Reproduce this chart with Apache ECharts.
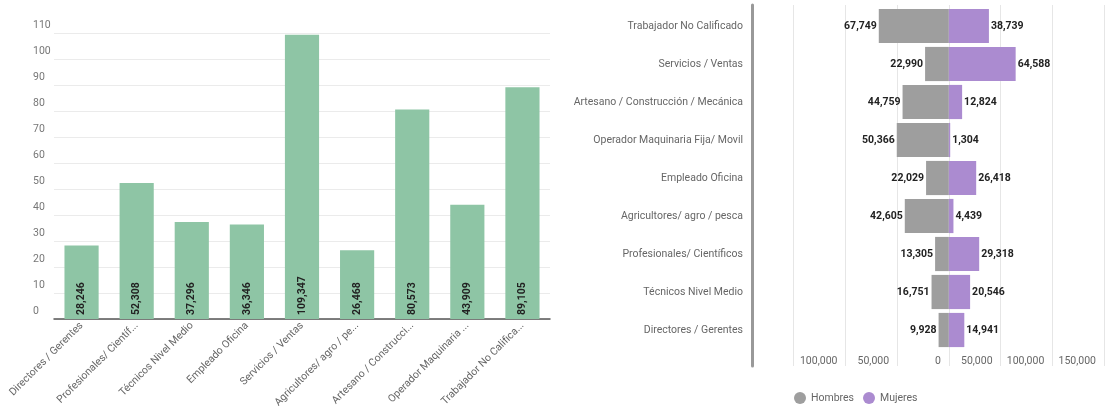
<!DOCTYPE html>
<html>
<head>
<meta charset="utf-8">
<script src="https://cdn.jsdelivr.net/npm/echarts@6/dist/echarts.min.js"></script>
<style>
  html, body { margin: 0; padding: 0; background: #fff; }
  #chart { width: 1108px; height: 406px; }
</style>
</head>
<body>
<div id="chart"></div>
<script>
// categorias del grafico de barras (izquierda)
const categorias = [
  "Directores / Gerentes",
  "Profesionales/ Científicos",
  "Técnicos Nivel Medio",
  "Empleado Oficina",
  "Servicios / Ventas",
  "Agricultores/ agro / pesca",
  "Artesano / Construcción / Mecánica",
  "Operador Maquinaria Fija/ Movil",
  "Trabajador No Calificado"
];
const totales = [28246, 52308, 37296, 36346, 109347, 26468, 80573, 43909, 89105];

// piramide (derecha), de abajo hacia arriba
const categoriasSexo = [
  "Directores / Gerentes",
  "Técnicos Nivel Medio",
  "Profesionales/ Científicos",
  "Agricultores/ agro / pesca",
  "Empleado Oficina",
  "Operador Maquinaria Fija/ Movil",
  "Artesano / Construcción / Mecánica",
  "Servicios / Ventas",
  "Trabajador No Calificado"
];
const hombres = [9928, 16751, 13305, 42605, 22029, 50366, 44759, 22990, 67749];
const mujeres = [14941, 20546, 29318, 4439, 26418, 1304, 12824, 64588, 38739];
const leyenda = ["Hombres", "Mujeres"];

const fmt = (v) => Math.abs(v).toLocaleString("en-US");
const font = "Roboto";
const fs = 10.5;

let myChart = echarts.init(document.getElementById("chart"));
myChart.setOption({
  textStyle: { fontFamily: font },
  animation: false,
  legend: {
    data: leyenda,
    left: 789,
    top: 387,
    icon: "circle",
    itemWidth: 12,
    itemHeight: 12,
    itemGap: 9,
    textStyle: { color: "#666", fontSize: fs, fontFamily: font },
  },
  grid: [
    { left: 54, right: 558, top: 33, bottom: 87, outerBoundsMode: "none" },  // barras
    { left: 742, right: 4, top: 7, bottom: 57, outerBoundsMode: "none" },    // piramide
    { left: 742, right: 4, top: 5, bottom: 40, outerBoundsMode: "none" },    // rejilla de fondo
  ],
  xAxis: [
    {
      type: "category",
      gridIndex: 0,
      data: categorias,
      axisTick: { show: false },
      axisLine: { lineStyle: { color: "#555", width: 1.5 } },
      axisLabel: {
        interval: 0,
        rotate: 45,
        fontSize: fs,
        color: "#666",
        margin: 5,
        width: 116,
        overflow: "truncate",
      },
    },
    {
      type: "value",
      gridIndex: 1,
      min: -200000,
      max: 150000,
      interval: 50000,
      axisLine: { show: false },
      axisTick: { show: false },
      splitLine: { show: false },
      axisLabel: {
        fontSize: fs,
        color: "#666",
        margin: 7,
        align: "right",
        padding: [0, 8, 0, 0],
        formatter: (v) => (v < -100000 ? "" : fmt(v)),
      },
    },
    {
      type: "value",
      gridIndex: 2,
      min: -200000,
      max: 150000,
      interval: 50000,
      axisLine: { show: false },
      axisTick: { show: false },
      axisLabel: { show: false },
      splitLine: { show: true, showMinLine: false, lineStyle: { color: "#e6e6e6" } },
    },
  ],
  yAxis: [
    {
      type: "value",
      gridIndex: 0,
      min: 0,
      max: 110000,
      interval: 10000,
      axisLine: { show: false },
      axisTick: { show: false },
      splitLine: { lineStyle: { color: "#ebebeb" } },
      axisLabel: {
        fontSize: fs,
        color: "#777",
        align: "left",
        margin: 21,
        verticalAlign: "bottom",
        padding: [0, 0, 2, 0],
        formatter: (v) => v / 1000,
      },
    },
    {
      type: "category",
      gridIndex: 1,
      data: categoriasSexo,
      offset: -10,
      axisLine: { show: false },
      axisTick: { show: false },
      axisLabel: { fontSize: fs, color: "#666", margin: 9 },
    },
    {
      type: "value",
      gridIndex: 2,
      min: 0,
      max: 1,
      offset: -10,
      axisLine: { show: true, onZero: false, lineStyle: { color: "#999", width: 3 } },
      axisTick: { show: false },
      axisLabel: { show: false },
      splitLine: { show: false },
    },
  ],
  series: [
    {
      name: "Total",
      type: "bar",
      xAxisIndex: 0,
      yAxisIndex: 0,
      barCategoryGap: "38%",
      itemStyle: { color: "#8ec5a5" },
      label: {
        show: true,
        position: "insideBottom",
        rotate: 90,
        align: "left",
        verticalAlign: "middle",
        distance: 4,
        fontSize: fs,
        fontWeight: "bold",
        color: "#222",
        formatter: (p) => fmt(p.value),
      },
      data: totales,
    },
    {
      name: "Hombres",
      type: "bar",
      stack: "total",
      xAxisIndex: 1,
      yAxisIndex: 1,
      barCategoryGap: "10%",
      itemStyle: { color: "#9e9e9e" },
      label: {
        show: true,
        position: "left",
        distance: 2,
        fontSize: fs,
        fontWeight: "bold",
        color: "#222",
        formatter: (p) => fmt(p.value),
      },
      data: hombres.map((v) => -v),
    },
    {
      name: "Mujeres",
      type: "bar",
      stack: "total",
      xAxisIndex: 1,
      yAxisIndex: 1,
      barCategoryGap: "10%",
      itemStyle: { color: "#ab8bd0" },
      label: {
        show: true,
        position: "right",
        distance: 2,
        fontSize: fs,
        fontWeight: "bold",
        color: "#222",
        formatter: (p) => fmt(p.value),
      },
      data: mujeres,
    },
  ],
});
</script>
</body>
</html>
